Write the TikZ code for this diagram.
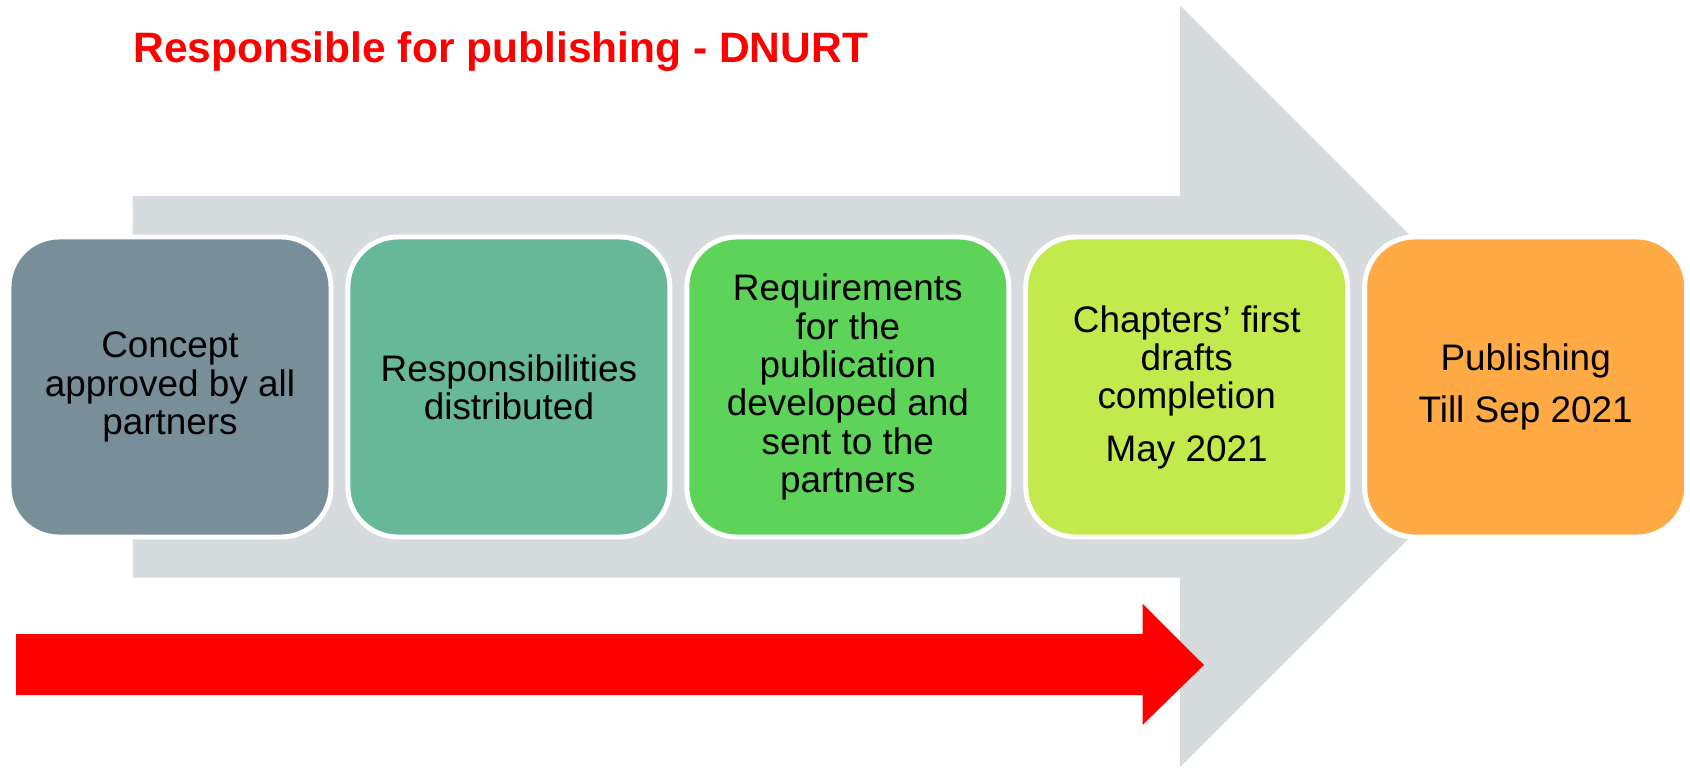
\documentclass[tikz,border=0pt]{standalone}
\usepackage{fontspec}
\setmainfont{Liberation Sans}
\usepackage{tikz}
\usetikzlibrary{positioning}

\definecolor{bandgray}{RGB}{214,220,222}
\definecolor{conceptcol}{RGB}{120,142,153}
\definecolor{respcol}{RGB}{102,184,153}
\definecolor{reqcol}{RGB}{94,211,90}
\definecolor{draftcol}{RGB}{194,234,76}
\definecolor{publcol}{RGB}{255,170,68}

\tikzset{
    stepbox/.style={draw=white, line width=1.4pt,
        rounded corners=5mm,
        minimum width=32.2mm,
        minimum height=30mm,
        align=center,
        font=\fontsize{10.5}{10.9}\selectfont}
}

\begin{document}
\begin{tikzpicture}[x=0.1mm,y=-0.1mm]
\useasboundingbox (0,0) rectangle (1690,770);

% Big gray arrow behind the steps
\fill[bandgray] (132.6,196) -- (1180,196) -- (1180,5.4) -- (1561,386.4)
    -- (1180,767) -- (1180,577.7) -- (132.6,577.7) -- cycle;

% Title
\node[anchor=base west, inner sep=0pt, text=red,
    font=\fontsize{12.1}{14}\selectfont\bfseries
] (title) at (132.6,62.5) {Responsible for publishing - DNURT};

% Concept
\node[stepbox, fill=conceptcol] (concept) at (170,387)
    {Concept\\approved by all\\partners};

% Responsibilities
\node[stepbox, fill=respcol,
    right=1.2mm of concept
] (resp) {Responsibilities\\distributed};

% Requirements
\node[stepbox, fill=reqcol,
    right=1.2mm of resp
] (req) {Requirements\\for the\\publication\\developed and\\sent to the\\partners};

% Drafts
\node[stepbox, fill=draftcol,
    right=1.2mm of req
] (drafts) {Chapters' first\\drafts\\completion\\[4pt]May 2021};

% Publishing
\node[stepbox, fill=publcol,
    right=1.2mm of drafts
] (publish) {Publishing\\[4pt]Till Sep 2021};

% Red arrow below
\fill[red] (16,634) -- (1142.5,634) -- (1142.5,603.6) -- (1204,665)
    -- (1142.5,725) -- (1142.5,695) -- (16,695) -- cycle;

\end{tikzpicture}
\end{document}
